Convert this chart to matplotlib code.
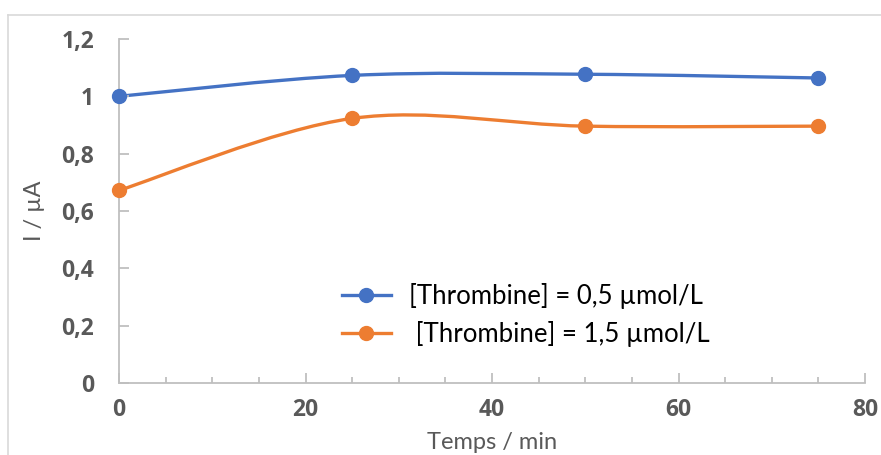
import numpy as np
import matplotlib
matplotlib.use("Agg")
from matplotlib import pyplot as plt
from matplotlib.path import Path
from matplotlib.lines import Line2D
import matplotlib.patches as mpatches

plt.rcParams['font.family'] = ['Lato', 'DejaVu Sans']

time = [0, 25, 50, 75]
i_05 = [1.0, 1.073, 1.077, 1.064]
i_15 = [0.672, 0.923, 0.896, 0.896]
labels = ["[Thrombine] = 0,5 µmol/L", " [Thrombine] = 1,5 µmol/L"]
colors = ["#4472C4", "#ED7D31"]


def smooth_path(x, y):
    # Excel-like smoothed line: Catmull-Rom segments as cubic Bezier
    pts = np.column_stack([x, y]).astype(float)
    ext = np.vstack([pts[0], pts, pts[-1]])
    verts = [pts[0]]
    codes = [Path.MOVETO]
    for k in range(len(pts) - 1):
        p0, p1, p2, p3 = ext[k], ext[k + 1], ext[k + 2], ext[k + 3]
        c1 = p1 + (p2 - p0) / 6
        c2 = p2 - (p3 - p1) / 6
        verts += [c1, c2, p2]
        codes += [Path.CURVE4] * 3
    return Path(verts, codes)


fig = plt.figure(figsize=(8.81, 4.55), dpi=100)
ax = fig.add_axes([119 / 881, 72 / 455, 746 / 881, 344 / 455])

# outer chart frame (top and left edges visible)
fig.add_artist(Line2D([8 / 881, 1], [1 - 15 / 455] * 2, color="#D9D9D9", lw=1.2))
fig.add_artist(Line2D([8 / 881] * 2, [0, 1 - 15 / 455], color="#D9D9D9", lw=1.2))

for ys, c, lab in zip([i_05, i_15], colors, labels):
    patch = mpatches.PathPatch(smooth_path(time, ys), facecolor="none", edgecolor=c,
                               lw=2.4, capstyle="round", clip_on=False)
    ax.add_patch(patch)
    ax.plot(time, ys, "o", color=c, ms=10, clip_on=False, zorder=3)
    ax.plot([], [], "-o", color=c, ms=10, lw=2.4, label=lab)

ax.set_xlim(0, 80)
ax.set_ylim(0, 1.2)
ax.set_xticks([0, 20, 40, 60, 80])
ax.set_xticks(np.arange(0, 81, 5), minor=True)
ax.set_yticks([0, 0.2, 0.4, 0.6, 0.8, 1.0, 1.2])
ax.set_yticklabels(["0", "0,2", "0,4", "0,6", "0,8", "1", "1,2"])
ax.set_xticklabels(["0", "20", "40", "60", "80"])

for s in ["top", "right"]:
    ax.spines[s].set_visible(False)
for s in ["left", "bottom"]:
    ax.spines[s].set_color("#BFBFBF")
    ax.spines[s].set_linewidth(1.3)

ax.tick_params(axis="both", which="both", direction="in", color="#BFBFBF", width=1.3)
ax.tick_params(axis="y", which="major", length=7, pad=18, labelsize=16.5, labelcolor="#595959")
ax.tick_params(axis="x", which="major", length=7, pad=11, labelsize=16.5, labelcolor="#595959")
ax.tick_params(axis="x", which="minor", length=4)
for t in ax.get_xticklabels() + ax.get_yticklabels():
    t.set_fontfamily(["Open Sans", "DejaVu Sans"])
    t.set_fontweight("bold")

ax.set_xlabel("Temps / min", fontsize=17, color="#595959", labelpad=7)
ax.set_ylabel("I / µA", fontsize=17, color="#595959", labelpad=12)

ax.legend(loc="upper left", bbox_to_anchor=(324 / 881, 1 - 265 / 455), bbox_transform=fig.transFigure,
          frameon=False, fontsize=18.5, handlelength=1.9, handletextpad=0.7, labelspacing=0.45,
          borderpad=0.2)

fig.savefig("out.png", dpi=100)
